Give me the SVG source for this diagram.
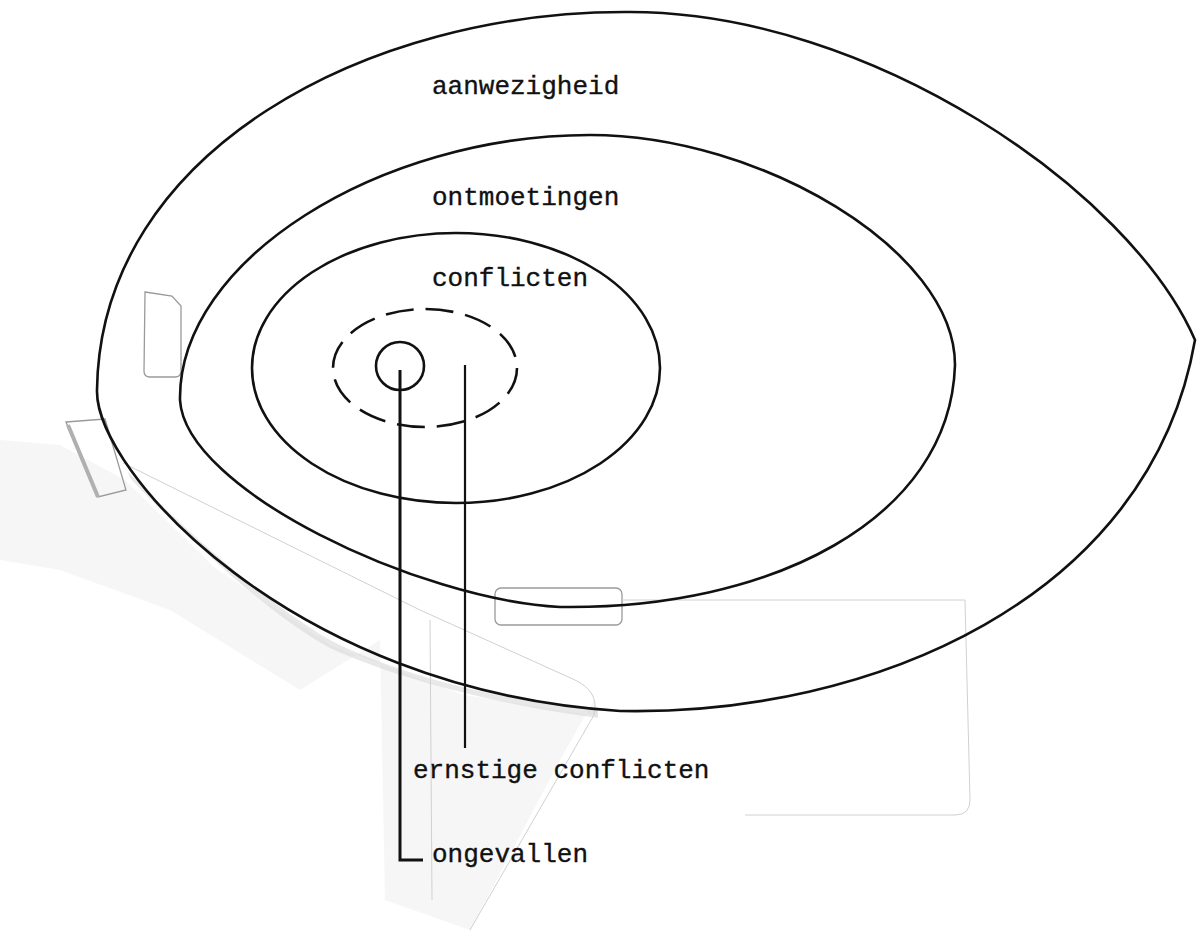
<svg xmlns="http://www.w3.org/2000/svg" width="1197" height="932" viewBox="0 0 1197 932">
<style>
.lbl{font-family:"Liberation Mono","DejaVu Sans Mono",monospace;font-size:26px;fill:#111;stroke:#111;stroke-width:0.35}
.ring{fill:none;stroke:#111;stroke-width:2.6}
.tape{fill:none;stroke:#9a9a9a;stroke-width:1.3}
.faint{fill:none;stroke:#d0d0d0;stroke-width:1}
.conn{fill:none;stroke:#111}
</style>
<rect width="1197" height="932" fill="#fff"/>
<g id="artifacts">
<path d="M0 440 L60 445 L125 480 L215 568 L330 645 L464 695 L598 716 L594 700 L560 760 L470 930 L385 900 L380 640 L300 690 L170 610 L60 570 L0 560 Z" fill="#f2f2f2" opacity="0.7"/>
<path d="M130 478 C170 520 260 610 330 648 C400 680 500 705 598 718 L598 710 C500 700 400 676 330 640 C260 600 170 515 128 472 Z" fill="#d6d6d6" opacity="0.55"/>
<path class="tape" d="M145 292 L172 296 L181 306 L181 371 Q181 377 175 377 L150 377 Q144 377 144 371 Z"/>
<path class="tape" d="M66 422 L105 419 L126 490 L98 497 Z"/>
<path d="M68 425 L98 497" stroke="#b0b0b0" stroke-width="4" fill="none"/>
<rect class="tape" x="495" y="588" width="127" height="37" rx="6"/>
<path class="faint" d="M123 463 L420 610 L575 680 Q600 692 594 715 L470 930"/>
<path class="faint" d="M430 620 L432 900"/>
<path class="faint" d="M622 600 L965 600 L970 800 Q970 815 955 815 L745 815"/>
</g>
<g id="aanwezigheid">
<path class="ring" d="M1195 340 C1130 190 870 12 630 12 C370 10 100 150 97 390 C95 470 290 690 620 711 C870 716 1150 600 1195 340 Z"/>
<text class="lbl" x="432" y="94">aanwezigheid</text>
</g>
<g id="ontmoetingen">
<path class="ring" stroke-width="2" d="M590 135 C760 135 955 250 955 365 C950 520 770 610 560 607 C420 600 185 490 180 400 C178 260 380 135 590 135 Z"/>
<text class="lbl" x="432" y="205">ontmoetingen</text>
</g>
<g id="conflicten">
<ellipse class="ring" cx="456" cy="368" rx="204" ry="135" stroke-width="2.4"/>
<text class="lbl" x="432" y="286">conflicten</text>
</g>
<g id="ernstige_conflicten">
<ellipse class="ring" cx="425" cy="368" rx="92" ry="59" stroke-width="2.4" stroke-dasharray="28 12"/>
<text class="lbl" x="413" y="778">ernstige conflicten</text>
</g>
<g id="ongevallen">
<circle class="ring" cx="400" cy="366" r="24" stroke-width="3"/>
<text class="lbl" x="432" y="862">ongevallen</text>
</g>
<g id="connectors">
<path class="conn" stroke-width="3" d="M400 370 L400 860 L423 860"/>
<path class="conn" stroke-width="2.2" d="M465 365 L465 748"/>
</g>
</svg>
